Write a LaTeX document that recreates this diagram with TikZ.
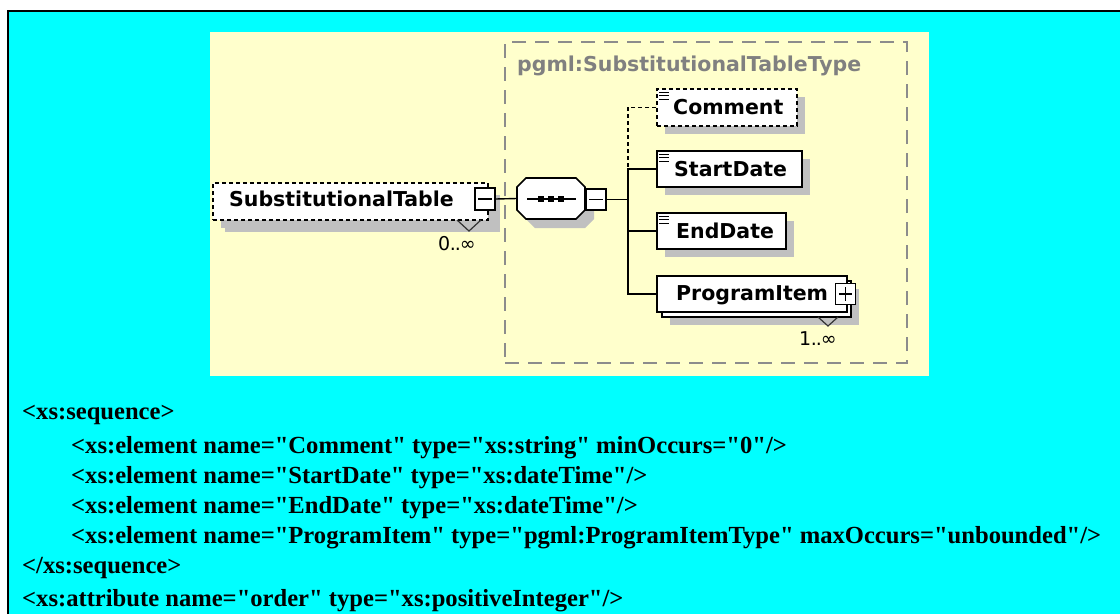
\documentclass[tikz,border=0pt]{standalone}
\usepackage{fontspec}
\setmainfont{Liberation Serif}[Ligatures=TeXOff]
\newfontfamily\xsdfont{DejaVu Sans}
\usetikzlibrary{shadows,calc}

\definecolor{bgcyan}{HTML}{00FFFF}
\definecolor{panelyellow}{HTML}{FFFFCC}
\definecolor{shadowgray}{HTML}{C0C0C0}
\definecolor{framegray}{HTML}{8C8C8C}
\definecolor{titlegray}{HTML}{808080}

\tikzset{
  elembox/.style={draw=black, line width=1.6pt, fill=white, inner sep=0pt,
    drop shadow={shadow xshift=8pt, shadow yshift=-8pt, fill=shadowgray, opacity=1}},
  optbox/.style={elembox, dash pattern=on 4pt off 3pt},
  plainbox/.style={draw=black, line width=1.6pt, fill=white, inner sep=0pt},
  btnbox/.style={draw=black, line width=1.2pt, fill=white, inner sep=0pt,
    minimum width=20pt, minimum height=21pt},
  elemlabel/.style={font=\xsdfont\bfseries\fontsize{20.5}{24}\selectfont,
    anchor=base west, inner sep=0pt},
  occlabel/.style={font=\xsdfont\fontsize{19}{22}\selectfont,
    anchor=base west, inner sep=0pt},
  wire/.style={line width=1.4pt, black},
  optwire/.style={wire, dash pattern=on 4pt off 3pt},
  codeline/.style={font=\bfseries\fontsize{24.6}{29}\selectfont,
    anchor=base west, inner sep=0pt},
}
\newcommand{\occdots}{\kern-0.5pt.\kern-1pt.\kern-1pt}

\begin{document}
\begin{tikzpicture}[x=1pt, y=-1pt]
\useasboundingbox (0,0) rectangle (1120,614);

% page and outer frame
\fill[white] (0,0) rectangle (1120,614);
\fill[bgcyan] (8,11) rectangle (1120,614);
\draw[line width=2pt] (8,614) -- (8,11) -- (1120,11);

% diagram panel
\node[fill=panelyellow, inner sep=0pt, minimum width=719pt, minimum height=344pt]
  (panel) at (569.5,204) {};

% complex type frame and its title
\node[draw=framegray, line width=2pt, dash pattern=on 14pt off 9pt, inner sep=0pt,
  minimum width=402pt, minimum height=321pt] (typeframe) at (706,202.5) {};
\node[font=\xsdfont\bfseries\fontsize{20.5}{24}\selectfont, text=titlegray,
  anchor=base west, inner sep=0pt] (typetitle) at (517,71) {pgml:SubstitutionalTableType};

% root element
\node[optbox, drop shadow={shadow xshift=12pt, shadow yshift=-12pt, fill=shadowgray, opacity=1},
  minimum width=275pt, minimum height=37pt] (rootbox) at (350.5,201.5) {};
\node[elemlabel] (rootlbl) at (229,206) {SubstitutionalTable};
\node[btnbox, minimum height=22pt] (rootbtn) at (485,199) {};
\draw[line width=1.2pt] ([xshift=4pt]rootbtn.west) -- ([xshift=-4pt]rootbtn.east);
\draw[line width=1.2pt, black!80] (457,220) -- (469,231) -- (481,220);
\node[occlabel] (rootocc) at (438,250) {0\occdots∞};

% sequence compositor
\node[inner sep=0pt, minimum width=68pt, minimum height=41pt] (seq) at (551,198.5) {};
\fill[shadowgray, shift={(9,9)}]
  (526,178) -- (576,178) -- (585,187) -- (585,210) -- (576,219) -- (526,219)
  -- (517,210) -- (517,187) -- cycle;
\draw[line width=1.6pt, fill=white]
  (526,178) -- (576,178) -- (585,187) -- (585,210) -- (576,219) -- (526,219)
  -- (517,210) -- (517,187) -- cycle;
\draw[line width=1.4pt] ($(seq.center)+(-24,0.5)$) -- ($(seq.center)+(25,0.5)$);
\foreach \dx in {-10,0,10}
  \fill ($(seq.center)+(\dx-3,-2.5)$) rectangle ++(6,6);
\node[btnbox] (seqbtn) at (596,199.5) {};
\draw[line width=1.2pt] ([xshift=4pt]seqbtn.west) -- ([xshift=-4pt]seqbtn.east);

% child elements
\node[optbox, minimum width=140pt, minimum height=37pt] (commentbox) at (727,107.5) {};
\node[elemlabel] (commentlbl) at (673,114) {Comment};
\node[elembox, minimum width=145pt, minimum height=36pt] (startbox) at (729.5,169) {};
\node[elemlabel] (startlbl) at (674,176) {StartDate};
\node[elembox, minimum width=129pt, minimum height=36pt] (endbox) at (721.5,231) {};
\node[elemlabel] (endlbl) at (676,238) {EndDate};

\node[elembox, minimum width=189pt, minimum height=36pt] (itemback) at (756.5,299) {};
\node[plainbox, minimum width=190pt, minimum height=36pt] (itembox) at (752,294) {};
\node[elemlabel] (itemlbl) at (676,300) {ProgramItem};
\node[btnbox] (itembtn) at (845.5,294) {};
\draw[line width=1.2pt] ([xshift=4pt]itembtn.west) -- ([xshift=-4pt]itembtn.east);
\draw[line width=1.2pt] ([yshift=-4pt]itembtn.north) -- ([yshift=4pt]itembtn.south);
\draw[line width=1.2pt, black!80] (818,317) -- (828,326) -- (838,317);
\node[occlabel] (itemocc) at (799,345) {1\occdots∞};

% simple-type marks on the leaf elements
\foreach \b in {commentbox,startbox,endbox}
  \foreach \dy in {4,7.5,11}
    \draw[line width=1pt] ($(\b.north west)+(3,\dy)$) -- ++(10,0);

% connectors
\coordinate (bus) at (628,199.5);
\coordinate (busstart) at (628,169);
\coordinate (busend) at (628,231);
\draw[wire] (rootbtn.east) -- (seq.west);
\draw[wire] (seqbtn.east) -- (bus);
\draw[optwire] (commentbox.west) -| (busstart);
\draw[wire] (startbox.west) -- (busstart) |- (itembox.west);
\draw[wire] (endbox.west) -- (busend);

% schema source
\node[codeline] (l1) at (22,419) {<xs:sequence>};
\node[codeline] (l2) at (71,453) {<xs:element name="Comment" type="xs:string" minOccurs="0"/>};
\node[codeline] (l3) at (71,483) {<xs:element name="StartDate" type="xs:dateTime"/>};
\node[codeline] (l4) at (71,513) {<xs:element name="EndDate" type="xs:dateTime"/>};
\node[codeline] (l5) at (71,543) {<xs:element name="ProgramItem" type="pgml:ProgramItemType" maxOccurs="unbounded"/>};
\node[codeline] (l6) at (22,573) {</xs:sequence>};
\node[codeline] (l7) at (22,606) {<xs:attribute name="order" type="xs:positiveInteger"/>};
\end{tikzpicture}
\end{document}
